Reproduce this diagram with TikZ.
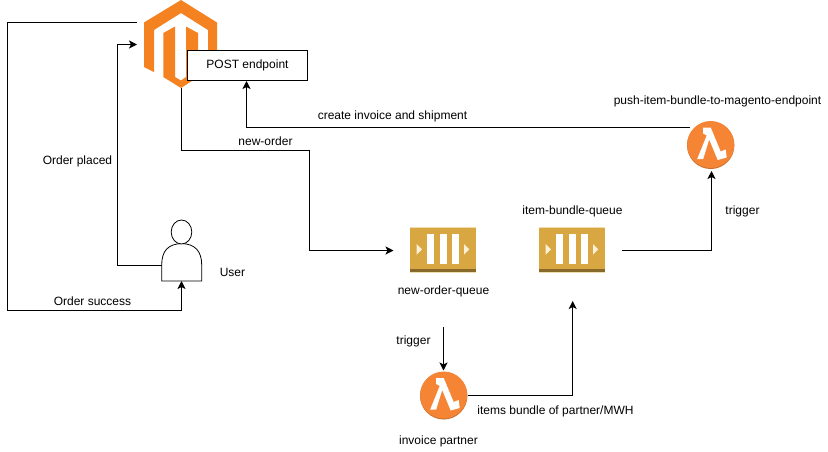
\documentclass[tikz,border=0pt]{standalone}
\usepackage{fontspec}
\setmainfont{Liberation Sans}
\usetikzlibrary{arrows.meta}
\definecolor{magorange}{HTML}{F58220}
\definecolor{lamorange}{HTML}{F58534}
\definecolor{lamdark}{HTML}{C8702F}
\definecolor{qgold}{HTML}{D9A741}
\definecolor{qdark}{HTML}{876929}
\definecolor{qlight}{HTML}{F2DDB0}
\definecolor{qtri}{HTML}{FBF0D8}
\tikzset{
  lbl/.style={font=\fontsize{12}{14}\selectfont,text=black,inner sep=0pt,anchor=center},
  conn/.style={draw=black,line width=1pt,-{Stealth[length=8pt,width=8pt,inset=2pt]}},
  plainbox/.style={draw=black,fill=white,line width=1pt,minimum width=120pt,minimum height=30pt,inner sep=0pt},
  anchorpt/.style={inner sep=0pt,minimum size=0pt,outer sep=0pt},
}
\newcommand{\queueicon}[2]{%
  \begin{scope}[shift={(#1,#2)}]
    \fill[qlight] (0,-0.7) rectangle (66,44.7);
    \fill[qgold] (0,0) rectangle (66,41);
    \fill[qdark] (0,41) rectangle (66,44);
    \fill[white] (17,6) rectangle (24,36);
    \fill[white] (30,6) rectangle (37,36);
    \fill[white] (42,6) rectangle (49,36);
    \fill[qtri] (6.7,16) -- (12,21.3) -- (6.7,26.7) -- cycle;
    \fill[qtri] (54,16) -- (59.3,21.3) -- (54,26.7) -- cycle;
  \end{scope}}
\newcommand{\lambdaicon}[2]{%
  \begin{scope}[shift={(#1,#2)}]
    \fill[lamdark] (0,0.8) circle (23.7);
    \fill[lamorange] (0,0) circle (23.5);
    \fill[white] (-7.5,-17) -- (0,-17) -- (10,7) -- (15,5) -- (16,13) -- (7,15.5) -- (-1.5,-5)
      -- (-7.5,14.5) -- (-13.5,14.5) -- (-4,-9) -- (-7.5,-11) -- cycle;
  \end{scope}}
\begin{document}
\begin{tikzpicture}[x=1pt,y=-1pt]
\useasboundingbox (0,0) rectangle (828,451);
\fill[white] (0,0) rectangle (828,451);
% Magento logo
\fill[magorange] (144,22.5) -- (181,0) -- (217,22.5) -- (217,67) -- (208,72) -- (208,30) -- (181,13)
  -- (154,30) -- (154,72) -- (144,67) -- cycle;
\fill[magorange] (163.3,33) -- (175,26.5) -- (175,77) -- (181,80.5) -- (186,77) -- (186,26.5) -- (198,33)
  -- (198,77) -- (181,88) -- (163.3,77) -- cycle;
\node[anchorpt] (magW1) at (137,22.5) {};
\node[anchorpt] (magW2) at (137,44.5) {};
\node[anchorpt] (magS) at (181.5,88) {};
% POST box
\node[plainbox,font=\fontsize{12}{14}\selectfont] (post) at (247.5,65.5) {POST endpoint};
% User
\draw[black,line width=0.8pt,fill=white] (161.7,281) -- (161.7,265) .. controls (161.7,251) and (168,244) .. (181.7,243.5)
   .. controls (195,244) and (201.7,251) .. (201.7,265) -- (201.7,281) -- cycle;
\draw[black,line width=0.8pt,fill=white] (181.5,232) ellipse (10.3 and 12);
\node[anchorpt] (userW) at (161.7,265.5) {};
\node[anchorpt] (userS) at (181.5,281) {};
% Queues
\queueicon{410}{228}
\queueicon{539}{228}
\node[anchorpt] (q1W) at (393.5,250.5) {};
\node[anchorpt] (q1S) at (443.5,370.5) {};
\node[anchorpt] (q1B) at (443.5,327) {};
\node[anchorpt] (q2S) at (572.7,301) {};
\node[anchorpt] (q2E) at (622,250.5) {};
% Lambdas
\lambdaicon{710.7}{144.5}
\lambdaicon{443.7}{395}
\node[anchorpt] (lam1W) at (690,127.5) {};
\node[anchorpt] (lam1S) at (711.5,171) {};
\node[anchorpt] (lam2E) at (467.5,395.5) {};
\node[anchorpt] (postS) at (246.5,81) {};
% Connectors
\draw[conn] (magW1.center) -- (7.5,22.5) -- (7.5,310.5) -- (181.5,310.5) -- (userS.center);
\draw[conn] (userW.center) -- (117.5,265.5) -- (117.5,44.5) -- (magW2.center);
\draw[conn] (magS.center) -- (181.5,150.5) -- (309.5,150.5) -- (309.5,250.5) -- (q1W.center);
\draw[conn] (lam1W.center) -- (246.5,127.5) -- (postS.center);
\draw[conn] (q1B.center) -- (q1S.center);
\draw[conn] (lam2E.center) -- (572.7,395.5) -- (q2S.center);
\draw[conn] (q2E.center) -- (711.5,250.5) -- (lam1S.center);
% Labels
\node[lbl] (t1) at (77.5,161.5) {Order placed};
\node[lbl] (t2) at (92.5,301.5) {Order success};
\node[lbl] (t3) at (232.5,272) {User};
\node[lbl] (t4) at (265.5,141.5) {new-order};
\node[lbl] (t5) at (392.5,116.5) {create invoice and shipment};
\node[lbl] (t6) at (717.5,101.5) {push-item-bundle-to-magento-endpoint};
\node[lbl] (t7) at (572.5,211.5) {item-bundle-queue};
\node[lbl] (t8) at (742.5,211.5) {trigger};
\node[lbl] (t9) at (443.5,291.5) {new-order-queue};
\node[lbl] (t10) at (413.5,341.5) {trigger};
\node[lbl] (t11) at (555.5,411.5) {items bundle of partner/MWH};
\node[lbl] (t12) at (438.5,441.5) {invoice partner};
\end{tikzpicture}
\end{document}
